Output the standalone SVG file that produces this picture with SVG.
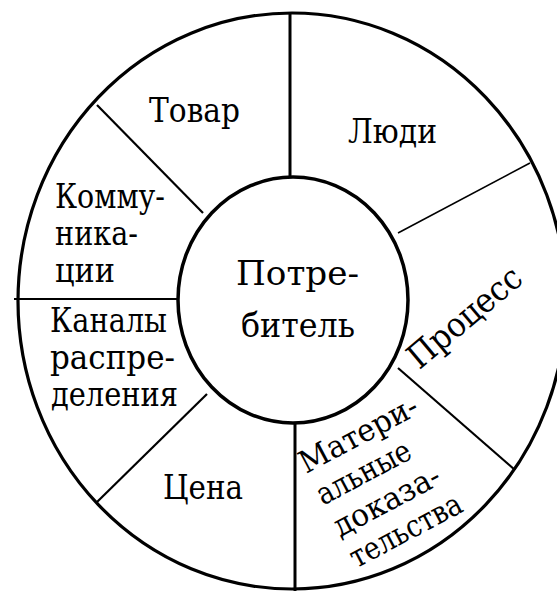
<svg xmlns="http://www.w3.org/2000/svg" width="557" height="591" viewBox="0 0 557 591">
<style>
.ring{fill:none;stroke:#000;stroke-width:3.2}
.div{stroke:#000;stroke-width:2.2;fill:none}
.thin{stroke:#000;stroke-width:1.6;fill:none}
text{font-family:'DejaVu Serif','Liberation Serif',serif;font-size:34px;fill:#000}
.m{font-size:31px}
</style>
<rect width="557" height="591" fill="#fff"/>
<g id="wheel">
<ellipse class="ring" cx="292" cy="301" rx="274" ry="288"/>
</g>
<g id="connectors">
<line class="div" x1="290" y1="13" x2="290" y2="177" style="stroke-width:3"/>
<line class="div" x1="97" y1="105" x2="203" y2="213"/>
<line class="div" x1="14" y1="299" x2="179" y2="299"/>
<line class="div" x1="97" y1="502" x2="207" y2="394"/>
<line class="div" x1="295" y1="423" x2="295" y2="591" style="stroke-width:3"/>
<line class="div" x1="398" y1="368" x2="515" y2="470"/>
<line class="thin" x1="398" y1="233" x2="530" y2="163"/>
</g>
<g id="center">
<ellipse class="ring" cx="293" cy="300" rx="115" ry="123" style="fill:#fff;stroke-width:3.5"/>
<text x="236" y="285" textLength="123" lengthAdjust="spacingAndGlyphs">Потре-</text>
<text x="241" y="337" textLength="114" lengthAdjust="spacingAndGlyphs">битель</text>
</g>
<g id="tovar"><text x="149" y="122" textLength="91" lengthAdjust="spacingAndGlyphs">Товар</text></g>
<g id="lyudi"><text x="348" y="143" textLength="89" lengthAdjust="spacingAndGlyphs">Люди</text></g>
<g id="kommunikatsii">
<text x="55" y="208" textLength="110" lengthAdjust="spacingAndGlyphs">Комму-</text>
<text x="55" y="245" textLength="83" lengthAdjust="spacingAndGlyphs">ника-</text>
<text x="55" y="282" textLength="60" lengthAdjust="spacingAndGlyphs">ции</text>
</g>
<g id="kanaly">
<text x="50" y="332" textLength="117" lengthAdjust="spacingAndGlyphs">Каналы</text>
<text x="50" y="369" textLength="125" lengthAdjust="spacingAndGlyphs">распре-</text>
<text x="51" y="406" textLength="127" lengthAdjust="spacingAndGlyphs">деления</text>
</g>
<g id="tsena"><text x="163" y="499" textLength="80" lengthAdjust="spacingAndGlyphs">Цена</text></g>
<g id="protsess"><text transform="translate(472,326) rotate(-40)" text-anchor="middle" textLength="138" lengthAdjust="spacingAndGlyphs">Процесс</text></g>
<g id="materialnye" transform="translate(306,474) rotate(-28)">
<text class="m" x="0" y="0" textLength="130" lengthAdjust="spacingAndGlyphs">Матери-</text>
<text class="m" x="0" y="36" textLength="103" lengthAdjust="spacingAndGlyphs">альные</text>
<text class="m" x="0" y="72" textLength="117" lengthAdjust="spacingAndGlyphs">доказа-</text>
<text class="m" x="0" y="107" textLength="123" lengthAdjust="spacingAndGlyphs">тельства</text>
</g>
</svg>
